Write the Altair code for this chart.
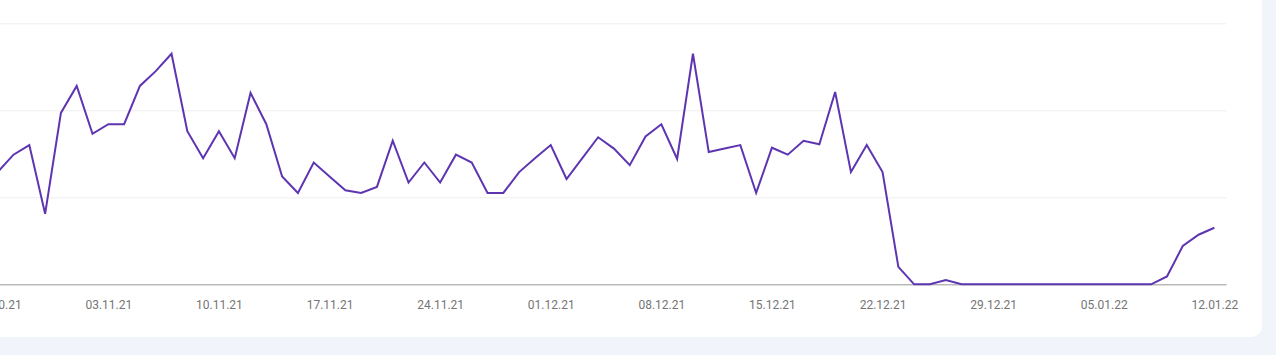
import altair as alt
import pandas as pd

# ---- data ----
start_date = "2021-10-27"
end_date = "2022-01-12"
values = [
    12.9, 14.9, 16.0, 8.1, 19.7, 22.8, 17.3,      # 27.10 - 02.11
    18.4, 18.4, 22.8, 24.5, 26.5, 17.6, 14.5,     # 03.11 - 09.11
    17.6, 14.5, 22.0, 18.4, 12.4, 10.5, 14.0,     # 10.11 - 16.11
    12.4, 10.8, 10.5, 11.2, 16.5, 11.7, 14.0,     # 17.11 - 23.11
    11.7, 14.9, 14.0, 10.5, 10.5, 12.9, 14.5,     # 24.11 - 30.11
    16.0, 12.1, 14.5, 16.9, 15.6, 13.7, 17.0,     # 01.12 - 07.12
    18.4, 14.4, 26.5, 15.2, 15.6, 16.0, 10.5,     # 08.12 - 14.12
    15.7, 14.9, 16.5, 16.1, 22.1, 12.9, 16.0,     # 15.12 - 21.12
    12.9, 2.0, 0.0, 0.0, 0.5, 0.0, 0.0,           # 22.12 - 28.12
    0.0, 0.0, 0.0, 0.0, 0.0, 0.0, 0.0,            # 29.12 - 04.01
    0.0, 0.0, 0.0, 0.0, 0.9, 4.4, 5.7,            # 05.01 - 11.01
    6.5,                                          # 12.01
]
dates = list(pd.date_range(start_date, end_date, freq="D").strftime("%Y-%m-%d"))

tick_dates = [
    (2021, 10, 27), (2021, 11, 3), (2021, 11, 10), (2021, 11, 17),
    (2021, 11, 24), (2021, 12, 1), (2021, 12, 8), (2021, 12, 15),
    (2021, 12, 22), (2021, 12, 29), (2022, 1, 5), (2022, 1, 12),
]
y_ticks = [0, 10, 20, 30]

df = pd.DataFrame({"date": dates, "value": values})

LEFT = -30          # plot area starts left of the window (chart is cropped)
RIGHT_EDGE = 1226
W = RIGHT_EDGE - LEFT
H = 261
TOP = 23.3
BLUE = "#F1F4FB"

x_scale = alt.Scale(
    type="utc",
    domain=[
        alt.DateTime(year=2021, month=10, date=25, hours=5, minutes=54, utc=True),
        alt.DateTime(year=2022, month=1, date=12, hours=17, minutes=40, utc=True),
    ],
)

line = alt.Chart(df).mark_line(color="#5E35B1", strokeWidth=2).encode(
    x=alt.X(
        "date:T",
        scale=x_scale,
        axis=alt.Axis(
            values=[alt.DateTime(year=y, month=m, date=d, utc=True) for y, m, d in tick_dates],
            labelExpr="utcFormat(datum.value, '%d.%m.%y')",
            labelFlush=False,
            labelOverlap=False,
            ticks=False,
            grid=False,
            domainColor="#9E9E9E",
            domainWidth=1,
            labelColor="#757575",
            labelFont="Roboto",
            labelFontSize=12,
            labelPadding=15,
            title=None,
        ),
    ),
    y=alt.Y(
        "value:Q",
        scale=alt.Scale(domain=[0, 30], nice=False),
        axis=alt.Axis(
            values=y_ticks,
            grid=True,
            gridColor="#EEEEEE",
            domain=False,
            ticks=False,
            labels=False,
            title=None,
        ),
    ),
)

one = alt.Data(values=[{}])


def deco(x, x2, y, y2, color, **kw):
    return alt.Chart(one).mark_rect(color=color, **kw).encode(
        x=alt.value(x - LEFT), x2=alt.value(x2 - LEFT),
        y=alt.value(y - TOP), y2=alt.value(y2 - TOP),
    )


right_strip = deco(1262, 1320, -50, 420, BLUE)
bottom_strip = deco(-50, 1320, 337, 420, BLUE)
corner_sq = deco(1240, 1262, 315, 337, BLUE)
corner_white = deco(1240, 1262, 315, 337, "white", cornerRadiusBottomRight=20)

chart = alt.layer(right_strip, bottom_strip, corner_sq, corner_white, line).properties(
    width=W,
    height=H,
    autosize=alt.AutoSizeParams(type="none"),
    padding={"left": LEFT, "top": TOP, "right": 1276 - RIGHT_EDGE, "bottom": 355 - H - TOP},
    background="white",
).configure_view(stroke=None)

chart.save("out.html", embed_options={"renderer": "svg", "actions": False})
